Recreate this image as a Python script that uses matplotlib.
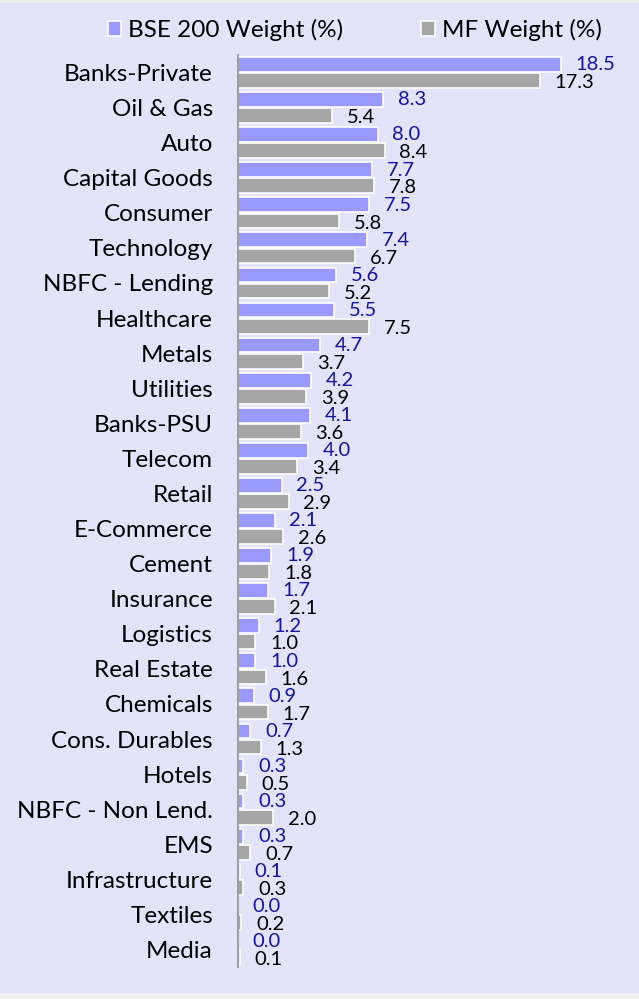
import numpy as np
import matplotlib.pyplot as plt
from matplotlib.patches import Rectangle

sectors = ['Banks-Private', 'Oil & Gas', 'Auto', 'Capital Goods', 'Consumer',
           'Technology', 'NBFC - Lending', 'Healthcare', 'Metals', 'Utilities',
           'Banks-PSU', 'Telecom', 'Retail', 'E-Commerce', 'Cement', 'Insurance',
           'Logistics', 'Real Estate', 'Chemicals', 'Cons. Durables', 'Hotels',
           'NBFC - Non Lend.', 'EMS', 'Infrastructure', 'Textiles', 'Media']
bse_weight = [18.5, 8.3, 8.0, 7.7, 7.5, 7.4, 5.6, 5.5, 4.7, 4.2, 4.1, 4.0, 2.5,
              2.1, 1.9, 1.7, 1.2, 1.0, 0.9, 0.7, 0.3, 0.3, 0.3, 0.1, 0.0, 0.0]
mf_weight = [17.3, 5.4, 8.4, 7.8, 5.8, 6.7, 5.2, 7.5, 3.7, 3.9, 3.6, 3.4, 2.9,
             2.6, 1.8, 2.1, 1.0, 1.6, 1.7, 1.3, 0.5, 2.0, 0.7, 0.3, 0.2, 0.1]

plt.rcParams['font.family'] = ['Lato', 'DejaVu Sans']

fig = plt.figure(figsize=(6.39, 9.99), dpi=100, facecolor='#EFEFEF')
fig.patches.append(Rectangle((0, 6 / 999), 1, 990 / 999, transform=fig.transFigure,
                             facecolor='#E3E3FA', edgecolor='none', zorder=-1))

ax = fig.add_axes([238 / 639, 32 / 999, 382 / 639, 912 / 999])
ax.set_facecolor('none')

y = np.arange(len(sectors))
h = 0.42
ax.barh(y - h / 2 - 0.02, bse_weight, height=h, color='#9999FF', edgecolor='white',
        linewidth=1.2, label='BSE 200 Weight (%)')
ax.barh(y + h / 2 + 0.02, mf_weight, height=h, color='#A6A6A6', edgecolor='white',
        linewidth=1.2, label='MF Weight (%)')

for i in range(len(sectors)):
    ax.text(bse_weight[i] + 0.85, y[i] - 0.22, f'{bse_weight[i]:.1f}', color='#1414A0',
            fontsize=14.5, va='center', ha='left')
    ax.text(mf_weight[i] + 0.85, y[i] + 0.29, f'{mf_weight[i]:.1f}', color='black',
            fontsize=14.5, va='center', ha='left')

ax.set_xlim(0, 21.9)
ax.set_ylim(len(sectors) - 0.5, -0.5)
ax.set_yticks(y)
ax.set_yticklabels(sectors, fontsize=17.5)
ax.tick_params(axis='y', length=0, pad=18)
ax.set_xticks([])
for s in ['top', 'right', 'bottom']:
    ax.spines[s].set_visible(False)
ax.spines['left'].set_color('#A0A0A0')
ax.spines['left'].set_linewidth(1.5)

fig.legend(loc='center', bbox_to_anchor=(0.555, 1 - 30 / 999), ncol=2, frameon=False,
           fontsize=17.5, handlelength=0.55, handleheight=0.55, handletextpad=0.3,
           columnspacing=3.2, borderaxespad=0)

fig.savefig('out.png', dpi=100, facecolor=fig.get_facecolor())
